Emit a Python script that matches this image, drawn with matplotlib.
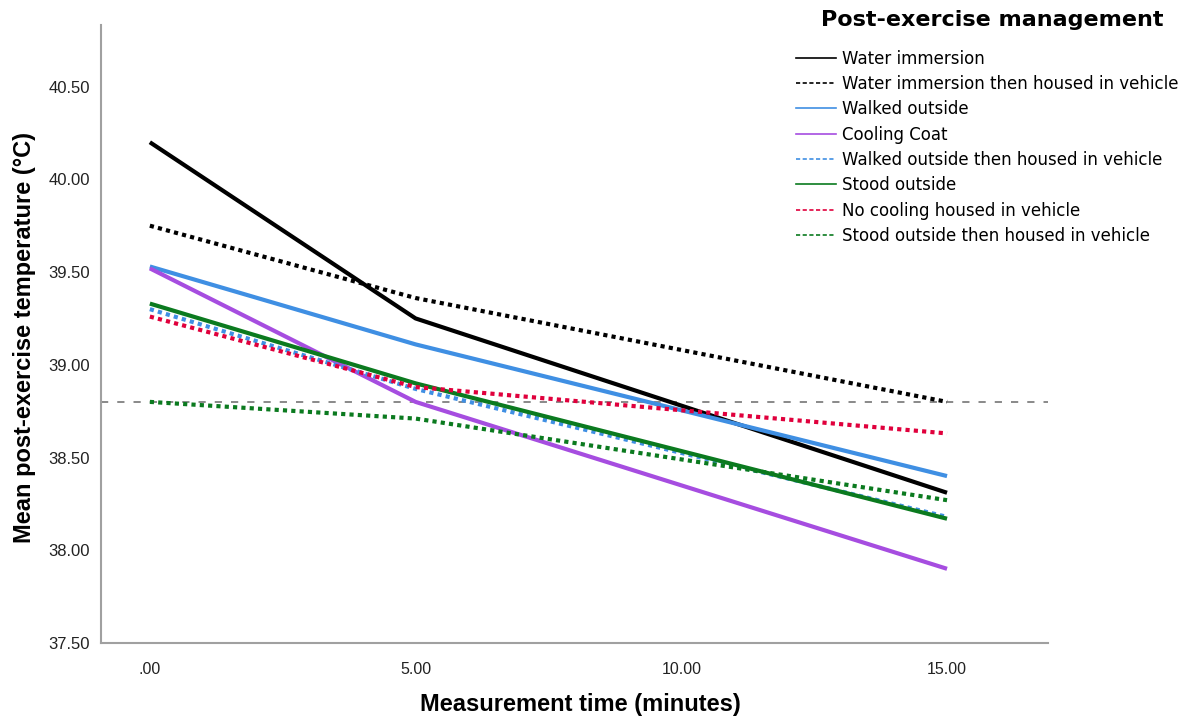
import matplotlib.pyplot as plt
from matplotlib.lines import Line2D


# ==========================================
# DATA
# ==========================================

times = [0, 5, 15]

x_tick_values = [0, 5, 10, 15]
x_tick_labels = [".00", "5.00", "10.00", "15.00"]

y_tick_values = [37.5, 38.0, 38.5, 39.0, 39.5, 40.0, 40.5]
y_tick_labels = ["37.50", "38.00", "38.50", "39.00", "39.50", "40.00", "40.50"]

groups = [
    "Water immersion",
    "Water immersion then housed in vehicle",
    "Walked outside",
    "Cooling Coat",
    "Walked outside then housed in vehicle",
    "Stood outside",
    "No cooling housed in vehicle",
    "Stood outside then housed in vehicle",
]

water_immersion = [40.20, 39.25, 38.31]
water_immersion_vehicle = [39.75, 39.36, 38.80]
walked_outside = [39.53, 39.11, 38.40]
cooling_coat = [39.52, 38.80, 37.90]
walked_outside_vehicle = [39.30, 38.87, 38.18]
stood_outside = [39.33, 38.90, 38.17]
no_cooling_vehicle = [39.26, 38.88, 38.63]
stood_outside_vehicle = [38.80, 38.71, 38.27]

reference_temp = 38.80


# ==========================================
# STYLE
# ==========================================

series = [
    (water_immersion, "#000000", "solid"),
    (water_immersion_vehicle, "#000000", "dotted"),
    (walked_outside, "#3f8fe3", "solid"),
    (cooling_coat, "#a64de0", "solid"),
    (walked_outside_vehicle, "#3f8fe3", "dotted"),
    (stood_outside, "#0b7a1f", "solid"),
    (no_cooling_vehicle, "#e0003c", "dotted"),
    (stood_outside_vehicle, "#0b7a1f", "dotted"),
]

plt.rcParams["font.family"] = ["Liberation Sans", "DejaVu Sans"]


# ==========================================
# PLOT
# ==========================================

fig = plt.figure(
    figsize=(11.92, 7.19),
    dpi=100
)

ax = fig.add_axes([0.0847, 0.1057, 0.7945, 0.859])

ax.axhline(
    reference_temp,
    color="#808080",
    linewidth=1.3,
    dashes=(4, 5),
    zorder=1
)

for values, color, style in series:
    if style == "solid":
        ax.plot(
            times,
            values,
            color=color,
            linewidth=3.0,
            solid_capstyle="butt",
            zorder=2
        )
    else:
        ax.plot(
            times,
            values,
            color=color,
            linewidth=3.0,
            linestyle=(0, (1, 1)),
            dash_capstyle="butt",
            zorder=2
        )

ax.set_xlim(-0.92, 16.9)
ax.set_ylim(37.5, 40.83)

ax.set_xticks(x_tick_values)
ax.set_xticklabels(x_tick_labels)
ax.set_yticks(y_tick_values)
ax.set_yticklabels(y_tick_labels)

ax.tick_params(
    axis="both",
    length=0,
    colors="#222222"
)
ax.tick_params(axis="x", pad=14, labelsize=11.5)
ax.tick_params(axis="y", pad=8, labelsize=12)

for side in ["top", "right"]:
    ax.spines[side].set_visible(False)

for side in ["left", "bottom"]:
    ax.spines[side].set_color("#a0a0a0")
    ax.spines[side].set_linewidth(1.5)

ax.set_xlabel(
    "Measurement time (minutes)",
    fontsize=17,
    fontweight="bold",
    va="center",
    ha="center"
)
ax.xaxis.set_label_coords(0.506, -0.100)

ax.set_ylabel(
    "Mean post-exercise temperature (\u00b0C)",
    fontsize=17,
    fontweight="bold",
    va="center",
    ha="center"
)
ax.yaxis.set_label_coords(-0.081, 0.495)


# Legend

fig.text(
    992 / 1192,
    1 - 20 / 719,
    "Post-exercise management",
    family="DejaVu Sans",
    fontsize=16,
    fontweight="bold",
    ha="center",
    va="center"
)

handles = []
for values, color, style in series:
    handles.append(
        Line2D(
            [0], [0],
            color=color,
            linewidth=1.2,
            linestyle="solid" if style == "solid" else (0, (2.5, 1.5))
        )
    )

leg = fig.legend(
    handles,
    groups,
    loc="upper left",
    bbox_to_anchor=(0.662, 1 - 43 / 719),
    frameon=False,
    prop={"family": "DejaVu Sans", "size": 12},
    handlelength=2.4,
    handletextpad=0.35,
    labelspacing=0.44,
    borderaxespad=0
)


plt.savefig(
    "out.png",
    dpi=100
)

plt.close()
